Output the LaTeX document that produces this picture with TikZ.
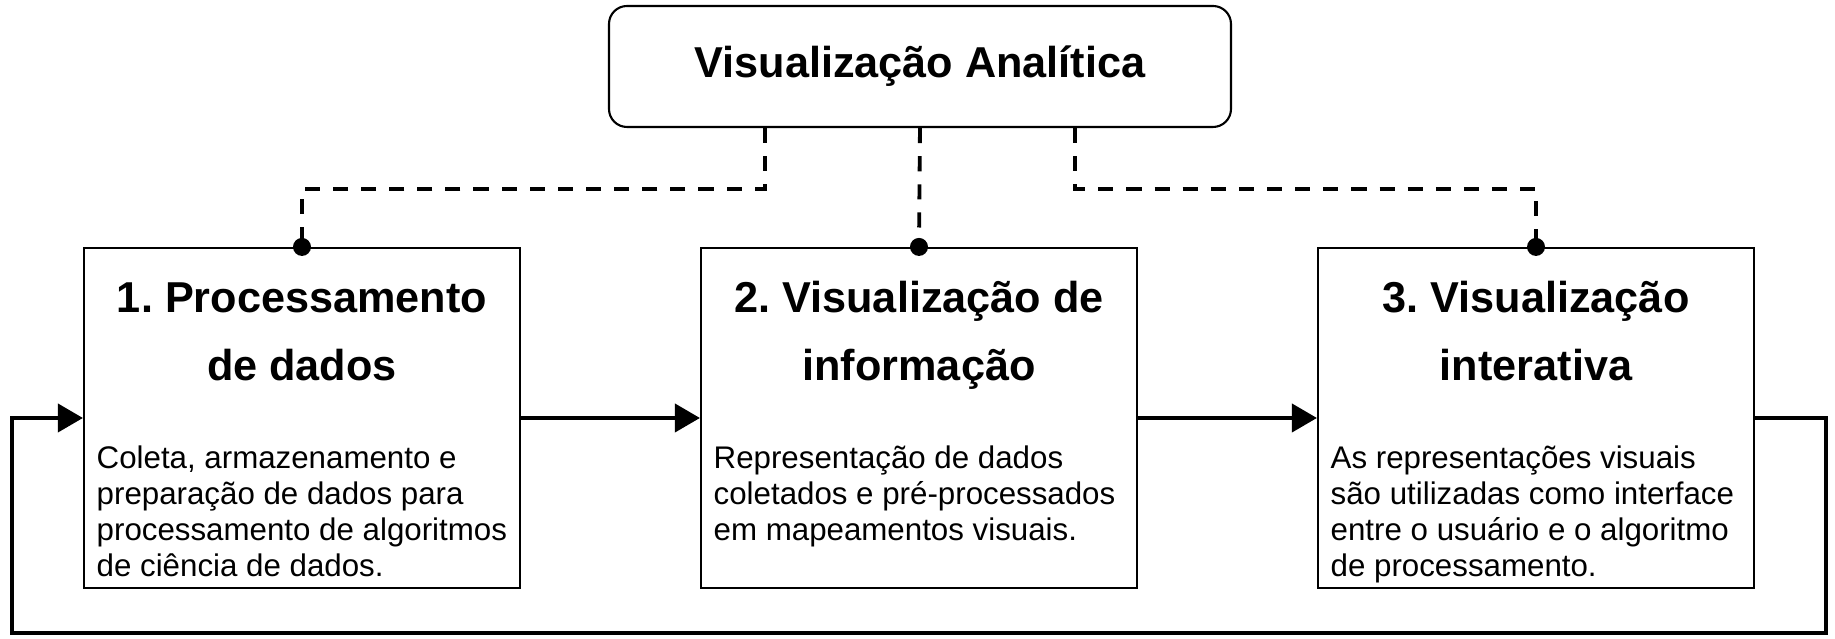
\documentclass[tikz,border=0pt]{standalone}
\usepackage{fontspec}
\setmainfont{Liberation Sans}
\usepackage{tikz}
\usetikzlibrary{arrows.meta}
\frenchspacing

\begin{document}
\begin{tikzpicture}[
	etapa/.style={shape=rectangle, draw, line width=0.6pt, minimum width=4.36cm, minimum height=3.40cm},
	titulo/.style={anchor=base, align=center, inner sep=0pt, font=\fontsize{12.3}{19.6}\selectfont\bfseries},
	texto/.style={anchor=base west, align=left, inner sep=0pt, font=\fontsize{8.9}{10.25}\selectfont},
	seta/.style={line width=1.1pt, -{Triangle[length=0.25cm, width=0.28cm]}},
	tracejado/.style={line width=1.1pt, dash pattern={on 4.3pt off 3.7pt}},
	ponto/.style={circle, fill, inner sep=0pt, minimum size=0.18cm}
]
	% Frame:
	\useasboundingbox (0,0) rectangle (18.35,-6.39);

	% Top box and the three steps:
	\node[shape=rectangle, rounded corners=0.18cm, draw, line width=0.6pt, minimum width=6.22cm, minimum height=1.21cm, font=\fontsize{12.3}{14}\selectfont\bfseries](VA) at (9.20, -0.665){Visualização Analítica};
	\node[etapa](E1) at (3.02, -4.18){};
	\node[etapa](E2) at (9.19, -4.18){};
	\node[etapa](E3) at (15.36, -4.18){};

	% (base = last line)
	\node[titulo](T1) at (3.02, -3.81){1. Processamento\\de dados};
	\node[titulo](T2) at (9.19, -3.81){2. Visualização de\\informação};
	\node[titulo](T3) at (15.36, -3.81){3. Visualização\\interativa};

	\node[texto](B1) at (0.96, -5.765){Coleta, armazenamento e\\preparação de dados para\\processamento de algoritmos\\de ciência de dados.};
	\node[texto](B2) at (7.13, -5.403){Representação de dados\\coletados e pré-processados\\em mapeamentos visuais.};
	\node[texto](B3) at (13.30, -5.765){As representações visuais\\são utilizadas como interface\\entre o usuário e o algoritmo\\de processamento.};

	% Dashed links:
	\draw[tracejado] ([xshift=-1.55cm]VA.south) -- ++(0, -0.61) -| (E1.north);
	\draw[tracejado] (VA.south) -- (E2.north);
	\draw[tracejado] ([xshift=1.55cm]VA.south) -- ++(0, -0.61) -| (E3.north);
	\node[ponto](P1) at (E1.north){};
	\node[ponto](P2) at (E2.north){};
	\node[ponto](P3) at (E3.north){};

	% Arrows:
	\coordinate (R1) at (18.26, -6.33);
	\coordinate (R2) at (0.12, -6.33);
	\draw[seta] (E1.east) -- (E2.west);
	\draw[seta] (E2.east) -- (E3.west);
	\draw[seta] (E3.east) -| (R1) -- (R2) |- (E1.west);
\end{tikzpicture}
\end{document}
